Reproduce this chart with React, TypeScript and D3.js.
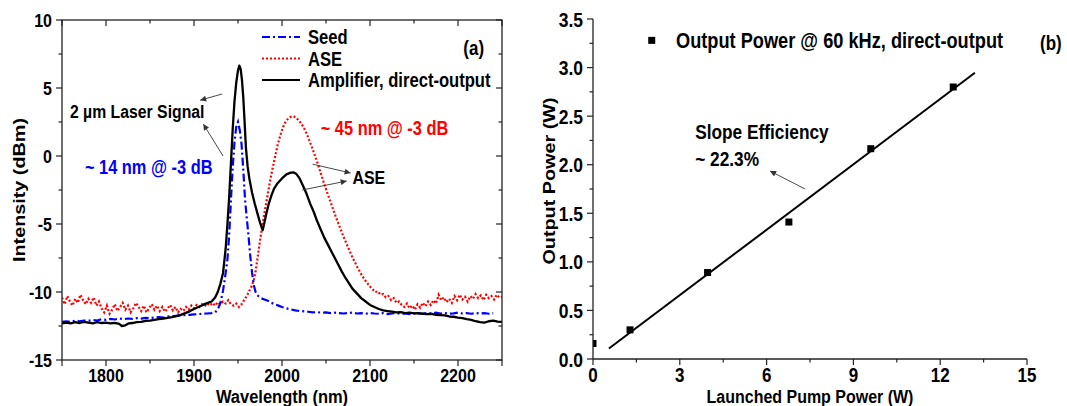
import React from 'react';
import * as d3 from 'd3';

const W = 1067;
const H = 406;
const FONT = '"Liberation Sans", Arial, Helvetica, sans-serif';
// the source figure is a little taller than wide in its lettering
const SY = 1.2;

// (a) spectra, [wavelength (nm), intensity (dBm)]
const seed: [number, number][] = [
  [1750, -12.2], [1755, -12.15], [1760, -12.2], [1765, -12.1], [1770, -12.15], [1775, -12.1],
  [1780, -12.12], [1785, -12.05], [1790, -12.1], [1795, -12.0], [1800, -12.05], [1805, -11.98],
  [1810, -12.02], [1815, -11.95], [1820, -12.0], [1825, -11.95], [1830, -11.98], [1835, -11.92],
  [1840, -11.95], [1845, -11.9], [1850, -11.92], [1855, -11.88], [1860, -11.85], [1865, -11.88],
  [1870, -11.8], [1875, -11.78], [1880, -11.75], [1885, -11.72], [1890, -11.7], [1895, -11.68],
  [1900, -11.65], [1905, -11.62], [1910, -11.6], [1915, -11.58], [1920, -11.55], [1924, -11.5],
  [1927, -11.3], [1930, -10.8], [1933, -9.9], [1936, -8.6], [1938, -7.6], [1940, -5.8],
  [1942, -3.2], [1944, -0.8], [1946, 1.0], [1948, 2.15], [1950, 2.5], [1952, 1.9], [1954, 0.9],
  [1956, -1.0], [1958, -3.2], [1960, -4.6], [1962, -5.9], [1964, -7.4], [1966, -8.6],
  [1968, -9.5], [1970, -10.0], [1973, -10.3], [1976, -10.45], [1980, -10.55], [1984, -10.65],
  [1988, -10.8], [1992, -10.9], [1996, -11.0], [2000, -11.1], [2005, -11.2], [2010, -11.28],
  [2015, -11.35], [2020, -11.4], [2025, -11.42], [2030, -11.45], [2035, -11.5], [2040, -11.48],
  [2045, -11.52], [2050, -11.5], [2055, -11.55], [2060, -11.52], [2065, -11.55], [2070, -11.58],
  [2075, -11.55], [2080, -11.52], [2085, -11.58], [2090, -11.55], [2095, -11.6], [2100, -11.55],
  [2105, -11.58], [2110, -11.6], [2115, -11.55], [2120, -11.62], [2125, -11.58], [2130, -11.55],
  [2135, -11.6], [2140, -11.58], [2145, -11.62], [2150, -11.55], [2155, -11.6], [2160, -11.58],
  [2165, -11.55], [2170, -11.6], [2175, -11.52], [2180, -11.58], [2185, -11.55], [2190, -11.6],
  [2195, -11.57], [2200, -11.52], [2205, -11.58], [2210, -11.55], [2215, -11.6], [2220, -11.55],
  [2225, -11.58], [2230, -11.55], [2235, -11.6], [2240, -11.56],
];

const ase: [number, number][] = [
  [1750, -10.4], [1753, -10.9], [1756, -10.3], [1759, -10.7], [1762, -11.0], [1765, -10.5],
  [1768, -10.8], [1771, -10.2], [1774, -10.6], [1777, -10.9], [1780, -10.5], [1783, -10.8],
  [1786, -10.4], [1789, -11.0], [1792, -10.7], [1795, -11.2], [1798, -11.5], [1801, -11.0],
  [1804, -11.6], [1807, -11.3], [1810, -10.9], [1813, -11.4], [1816, -11.1], [1819, -10.8],
  [1822, -11.3], [1825, -11.0], [1828, -11.5], [1831, -11.2], [1834, -10.8], [1837, -11.1],
  [1840, -11.4], [1843, -11.0], [1846, -11.5], [1849, -11.2], [1852, -10.9], [1855, -11.3],
  [1858, -11.0], [1861, -11.4], [1864, -11.1], [1867, -11.45], [1870, -11.2], [1873, -10.95],
  [1876, -11.35], [1879, -11.1], [1882, -11.5], [1885, -11.25], [1888, -11.4], [1891, -11.1],
  [1894, -11.3], [1897, -11.0], [1900, -11.2], [1903, -10.95], [1906, -11.1], [1909, -10.9],
  [1912, -11.05], [1915, -10.85], [1918, -11.0], [1921, -10.8], [1924, -11.0], [1927, -10.75],
  [1930, -10.9], [1933, -10.7], [1936, -10.85], [1939, -10.6], [1942, -10.9], [1945, -11.0],
  [1948, -10.85], [1951, -11.1], [1954, -10.9], [1957, -10.6], [1960, -10.3], [1963, -9.9],
  [1966, -9.5], [1968, -9.1], [1970, -8.5], [1972, -7.6], [1974, -6.7], [1976, -5.8],
  [1978, -5.0], [1980, -4.2], [1983, -3.1], [1986, -2.0], [1989, -1.0], [1992, -0.1],
  [1995, 0.8], [1998, 1.5], [2001, 2.1], [2004, 2.5], [2007, 2.75], [2010, 2.88], [2013, 2.92],
  [2016, 2.82], [2019, 2.62], [2022, 2.38], [2025, 2.05], [2028, 1.65], [2031, 1.15],
  [2034, 0.65], [2037, 0.1], [2040, -0.45], [2043, -1.05], [2046, -1.65], [2049, -2.25],
  [2052, -2.8], [2055, -3.35], [2058, -3.9], [2061, -4.45], [2064, -4.95], [2067, -5.45],
  [2070, -5.95], [2073, -6.4], [2076, -6.85], [2079, -7.3], [2082, -7.7], [2085, -8.1],
  [2088, -8.45], [2091, -8.8], [2094, -9.1], [2097, -9.35], [2100, -9.6], [2103, -9.8],
  [2106, -10.0], [2109, -9.95], [2112, -10.2], [2115, -10.15], [2118, -10.4], [2121, -10.3],
  [2124, -10.6], [2127, -10.45], [2130, -10.8], [2133, -10.7], [2136, -10.95], [2139, -11.1],
  [2142, -10.85], [2145, -11.2], [2148, -11.0], [2151, -11.3], [2154, -10.9], [2157, -11.15],
  [2160, -10.8], [2163, -11.05], [2166, -10.7], [2169, -10.95], [2172, -10.6], [2175, -10.85],
  [2178, -10.2], [2181, -10.6], [2184, -10.4], [2187, -10.75], [2190, -10.5], [2193, -10.8],
  [2196, -10.3], [2199, -10.6], [2202, -10.2], [2205, -10.55], [2208, -10.35], [2211, -10.7],
  [2214, -10.3], [2217, -10.5], [2220, -10.15], [2223, -10.45], [2226, -10.25], [2229, -10.6],
  [2232, -10.2], [2235, -10.45], [2238, -10.3], [2241, -10.55], [2244, -10.2], [2247, -10.4],
  [2250, -10.35],
];

const amplifier: [number, number][] = [
  [1750, -12.3], [1755, -12.25], [1760, -12.3], [1765, -12.22], [1770, -12.28], [1775, -12.2],
  [1780, -12.25], [1785, -12.3], [1790, -12.22], [1795, -12.28], [1800, -12.25], [1805, -12.3],
  [1810, -12.27], [1815, -12.35], [1818, -12.5], [1822, -12.45], [1826, -12.3], [1830, -12.28],
  [1835, -12.22], [1840, -12.2], [1845, -12.12], [1850, -12.1], [1855, -12.05], [1860, -12.0],
  [1865, -11.95], [1870, -11.9], [1875, -11.85], [1880, -11.78], [1885, -11.68], [1890, -11.55],
  [1895, -11.42], [1900, -11.25], [1905, -11.1], [1910, -10.95], [1915, -10.82], [1920, -10.7],
  [1924, -10.4], [1927, -10.0], [1930, -9.4], [1933, -8.6], [1936, -6.8], [1938, -5.0],
  [1940, -3.0], [1942, -0.5], [1944, 2.0], [1946, 4.0], [1948, 5.4], [1950, 6.3], [1951.5, 6.65],
  [1953, 6.4], [1954.5, 5.6], [1956, 4.3], [1957.5, 2.5], [1959, 0.6], [1961, -0.8],
  [1963, -1.7], [1966, -2.7], [1969, -3.5], [1972, -4.2], [1975, -4.9], [1978, -5.45],
  [1980, -4.9], [1982, -4.3], [1985, -3.5], [1988, -2.9], [1991, -2.4], [1995, -2.0],
  [2000, -1.65], [2005, -1.35], [2010, -1.22], [2013, -1.2], [2016, -1.3], [2020, -1.65],
  [2024, -2.2], [2028, -2.8], [2032, -3.5], [2036, -4.1], [2040, -4.8], [2044, -5.4],
  [2048, -6.0], [2052, -6.5], [2056, -7.0], [2060, -7.5], [2064, -8.0], [2068, -8.5],
  [2072, -8.95], [2076, -9.35], [2080, -9.75], [2085, -10.1], [2090, -10.45], [2095, -10.7],
  [2100, -10.95], [2105, -11.1], [2110, -11.25], [2115, -11.35], [2120, -11.4], [2125, -11.45],
  [2130, -11.5], [2135, -11.48], [2140, -11.55], [2145, -11.52], [2150, -11.58], [2155, -11.55],
  [2160, -11.6], [2165, -11.62], [2170, -11.6], [2175, -11.68], [2180, -11.7], [2185, -11.72],
  [2190, -11.8], [2195, -11.82], [2200, -11.88], [2205, -11.92], [2210, -12.0], [2215, -12.05],
  [2220, -12.15], [2225, -12.22], [2230, -12.25], [2235, -12.15], [2240, -12.1], [2245, -12.18],
  [2250, -12.2],
];

const wlTicks = [1800, 1900, 2000, 2100, 2200];
const dbmTicks = [-15, -10, -5, 0, 5, 10];

// (b) output power vs launched pump power
const pumpW = [0, 1.28, 3.96, 6.77, 9.6, 12.45];
const outputW = [0.16, 0.3, 0.89, 1.41, 2.165, 2.8];
const pumpTicks = [0, 3, 6, 9, 12, 15];
const powerTicks = [0, 0.5, 1, 1.5, 2, 2.5, 3, 3.5];
const fitRange = [0.55, 13.2];

const AXIS = '#222';
const ARROW = '#333';

type TxtProps = {
  x: number;
  y: number;
  size: number;
  anchor?: 'start' | 'middle' | 'end';
  fill?: string;
  dy?: string;
  sy?: number;
  children: React.ReactNode;
};

// text drawn with the figure's slight vertical stretch
function Txt({ x, y, size, anchor = 'start', fill = '#000', dy, sy = SY, children }: TxtProps) {
  return (
    <text transform={`translate(${x},${y}) scale(1,${sy})`} textAnchor={anchor} fontSize={size} fill={fill} dy={dy}>
      {children}
    </text>
  );
}

function VTxt({ x, y, size, children }: { x: number; y: number; size: number; children: React.ReactNode }) {
  return (
    <text transform={`translate(${x},${y}) rotate(-90) scale(${SY},1)`} textAnchor="middle" fontSize={size}>
      {children}
    </text>
  );
}

function Arrow({ x1, y1, x2, y2 }: { x1: number; y1: number; x2: number; y2: number }) {
  return (
    <line x1={x1} y1={y1} x2={x2} y2={y2} stroke={ARROW} strokeWidth={0.9} markerEnd="url(#arrowHead)" />
  );
}

function SpectrumPanel() {
  const x = d3.scaleLinear().domain([1750, 2250]).range([62, 502]);
  const y = d3.scaleLinear().domain([-15, 10]).range([360, 20]);
  const line = d3.line<[number, number]>().x(d => x(d[0])).y(d => y(d[1]));
  const [x0, x1] = x.range();
  const [y0, y1] = y.range();
  const minorX = d3.range(1750, 2251, 50);
  const minorY = d3.range(-15, 10.01, 2.5);

  const legX = 262;
  const legY = 37;
  const legGap = 21.5;
  const legend = [
    { label: 'Seed', color: '#0000ff', dash: '8,3,2,3' },
    { label: 'ASE', color: '#ff0000', dash: '2,2' },
    { label: 'Amplifier, direct-output', color: '#000', dash: undefined },
  ];

  return (
    <g fontFamily={FONT} fontWeight="bold">
      <defs>
        <clipPath id="clipA">
          <rect x={x0} y={y1} width={x1 - x0} height={y0 - y1} />
        </clipPath>
      </defs>

      {/* spectra */}
      <g clipPath="url(#clipA)" fill="none">
        <path d={line(ase) || ''} stroke="#ff0000" strokeWidth={2.2} strokeDasharray="2,2" />
        <path d={line(seed) || ''} stroke="#0000ff" strokeWidth={2.2} strokeDasharray="8,3,2,3" />
        <path d={line(amplifier) || ''} stroke="#000" strokeWidth={2.3} strokeLinejoin="round" />
      </g>

      {/* frame */}
      <rect x={x0} y={y1} width={x1 - x0} height={y0 - y1} fill="none" stroke={AXIS} strokeWidth={1.3} />

      {/* x ticks: outward on bottom, inward on top */}
      {minorX.map(t => {
        const major = wlTicks.includes(t) || t === 1750 || t === 2250;
        const len = major ? 6 : 3.5;
        return (
          <g key={t}>
            <line x1={x(t)} x2={x(t)} y1={y0} y2={y0 + len} stroke={AXIS} strokeWidth={1.2} />
            <line x1={x(t)} x2={x(t)} y1={y1} y2={y1 + len} stroke={AXIS} strokeWidth={1.2} />
          </g>
        );
      })}
      {wlTicks.map(t => (
        <Txt key={t} x={x(t)} y={y0 + 21.5} anchor="middle" size={16}>{t}</Txt>
      ))}

      {/* y ticks: outward on left, inward on right */}
      {minorY.map(t => {
        const major = dbmTicks.includes(t);
        const len = major ? 6 : 3.5;
        return (
          <g key={t}>
            <line x1={x0} x2={x0 - len} y1={y(t)} y2={y(t)} stroke={AXIS} strokeWidth={1.2} />
            <line x1={x1} x2={x1 - len} y1={y(t)} y2={y(t)} stroke={AXIS} strokeWidth={1.2} />
          </g>
        );
      })}
      {dbmTicks.map(t => (
        <Txt key={t} x={x0 - 10} y={y(t)} dy="0.36em" anchor="end" size={16}>{t}</Txt>
      ))}

      <Txt x={(x0 + x1) / 2} y={402.5} anchor="middle" size={16.5} sy={1.1}>Wavelength (nm)</Txt>
      <VTxt x={25} y={190} size={16.5}>Intensity (dBm)</VTxt>

      {/* legend */}
      {legend.map((l, i) => (
        <g key={l.label}>
          <line x1={legX} x2={legX + 38} y1={legY + i * legGap} y2={legY + i * legGap}
            stroke={l.color} strokeWidth={2.2} strokeDasharray={l.dash} />
          <Txt x={legX + 46} y={legY + i * legGap} dy="0.36em" size={16.6}>{l.label}</Txt>
        </g>
      ))}
      <Txt x={x(2206)} y={y(7.4)} size={17}>(a)</Txt>

      {/* annotations */}
      <Txt x={x(1759)} y={y(2.8)} size={15.8}>2 µm Laser Signal</Txt>
      <Arrow x1={x(1932)} y1={y(4.56)} x2={x(1907)} y2={y(4.1)} />
      <Arrow x1={x(1933)} y1={y(0)} x2={x(1910.6)} y2={y(2.35)} />
      <Txt x={x(1776)} y={y(-1.3)} size={16.4} fill="#0000ff">~ 14 nm @ -3 dB</Txt>
      <Txt x={x(2044)} y={y(1.55)} size={16.4} fill="#ff0000">~ 45 nm @ -3 dB</Txt>
      <Txt x={x(2080)} y={y(-2.05)} size={16}>ASE</Txt>
      <Arrow x1={x(2034.7)} y1={y(-0.6)} x2={x(2078)} y2={y(-1.25)} />
      <Arrow x1={x(2023)} y1={y(-2.5)} x2={x(2073.5)} y2={y(-1.84)} />
    </g>
  );
}

function PowerPanel() {
  const x = d3.scaleLinear().domain([0, 15]).range([593, 1027]);
  const y = d3.scaleLinear().domain([0, 3.5]).range([359, 19]);
  const [x0, x1] = x.range();
  const [y0, y1] = y.range();
  const points = pumpW.map((p, i) => ({ p, o: outputW[i] }));

  // linear fit over the lasing points (threshold point excluded)
  const fitPts = points.filter(d => d.p > 0);
  const mx = d3.mean(fitPts, d => d.p) as number;
  const my = d3.mean(fitPts, d => d.o) as number;
  const slope =
    (d3.sum(fitPts, d => (d.p - mx) * (d.o - my)) as number) /
    (d3.sum(fitPts, d => (d.p - mx) ** 2) as number);
  const icpt = my - slope * mx;
  const fitLine = d3.line<number>().x(v => x(v)).y(v => y(icpt + slope * v));

  const minorX = d3.range(0, 15.01, 1.5);
  const minorY = d3.range(0, 3.51, 0.25);
  const sq = 7;

  return (
    <g fontFamily={FONT} fontWeight="bold">
      <defs>
        <clipPath id="clipB">
          <rect x={x0} y={y1 - 10} width={x1 - x0 + 10} height={y0 - y1 + 10} />
        </clipPath>
      </defs>

      <path d={fitLine(fitRange) || ''} stroke="#000" strokeWidth={2} fill="none" />
      <g clipPath="url(#clipB)">
        {points.map((d, i) => (
          <rect key={i} x={x(d.p) - sq / 2} y={y(d.o) - sq / 2} width={sq} height={sq} fill="#000" />
        ))}
      </g>

      {/* axes */}
      <line x1={x0} x2={x1} y1={y0} y2={y0} stroke={AXIS} strokeWidth={1.3} />
      <line x1={x0} x2={x0} y1={y0} y2={y1} stroke={AXIS} strokeWidth={1.3} />
      {minorX.map(t => {
        const len = pumpTicks.includes(t) ? 6 : 3.5;
        return <line key={t} x1={x(t)} x2={x(t)} y1={y0} y2={y0 + len} stroke={AXIS} strokeWidth={1.2} />;
      })}
      {minorY.map(t => {
        const len = powerTicks.some(p => Math.abs(p - t) < 1e-6) ? 6 : 3.5;
        return <line key={t} x1={x0} x2={x0 - len} y1={y(t)} y2={y(t)} stroke={AXIS} strokeWidth={1.2} />;
      })}
      {pumpTicks.map(t => (
        <Txt key={t} x={x(t)} y={y0 + 22.5} anchor="middle" size={17}>{t}</Txt>
      ))}
      {powerTicks.map(t => (
        <Txt key={t} x={x0 - 10} y={y(t)} dy="0.36em" anchor="end" size={17.5}>{t.toFixed(1)}</Txt>
      ))}

      <Txt x={(x0 + x1) / 2} y={402.5} anchor="middle" size={16} sy={1.1}>Launched Pump Power (W)</Txt>
      <VTxt x={555} y={181} size={16.5}>Output Power (W)</VTxt>

      {/* legend */}
      <rect x={x(2.03) - sq / 2} y={y(3.28) - sq / 2} width={sq} height={sq} fill="#000" />
      <Txt x={x(2.87)} y={y(3.28)} dy="0.36em" size={18.2}>Output Power @ 60 kHz, direct-output</Txt>
      <Txt x={x(15.45)} y={y(3.18)} size={17}>(b)</Txt>

      {/* annotation */}
      <Txt x={x(3.53)} y={y(2.26)} size={17.3}>Slope Efficiency</Txt>
      <Txt x={x(3.53)} y={y(1.99)} size={17.3}>~ 22.3%</Txt>
      <Arrow x1={x(7.33)} y1={y(1.75)} x2={x(6.12)} y2={y(1.935)} />
    </g>
  );
}

export default function App() {
  return (
    <div style={{ position: 'absolute', left: 0, top: 0, background: '#fff' }}>
      <svg width={W} height={H} viewBox={`0 0 ${W} ${H}`} style={{ display: 'block' }}>
        <defs>
          <marker id="arrowHead" viewBox="0 0 10 10" refX="10" refY="5" markerUnits="userSpaceOnUse"
            markerWidth="8" markerHeight="6" orient="auto">
            <path d="M0,0 L10,5 L0,10 z" fill={ARROW} />
          </marker>
        </defs>
        <rect width={W} height={H} fill="#fff" />
        <SpectrumPanel />
        <PowerPanel />
      </svg>
    </div>
  );
}
